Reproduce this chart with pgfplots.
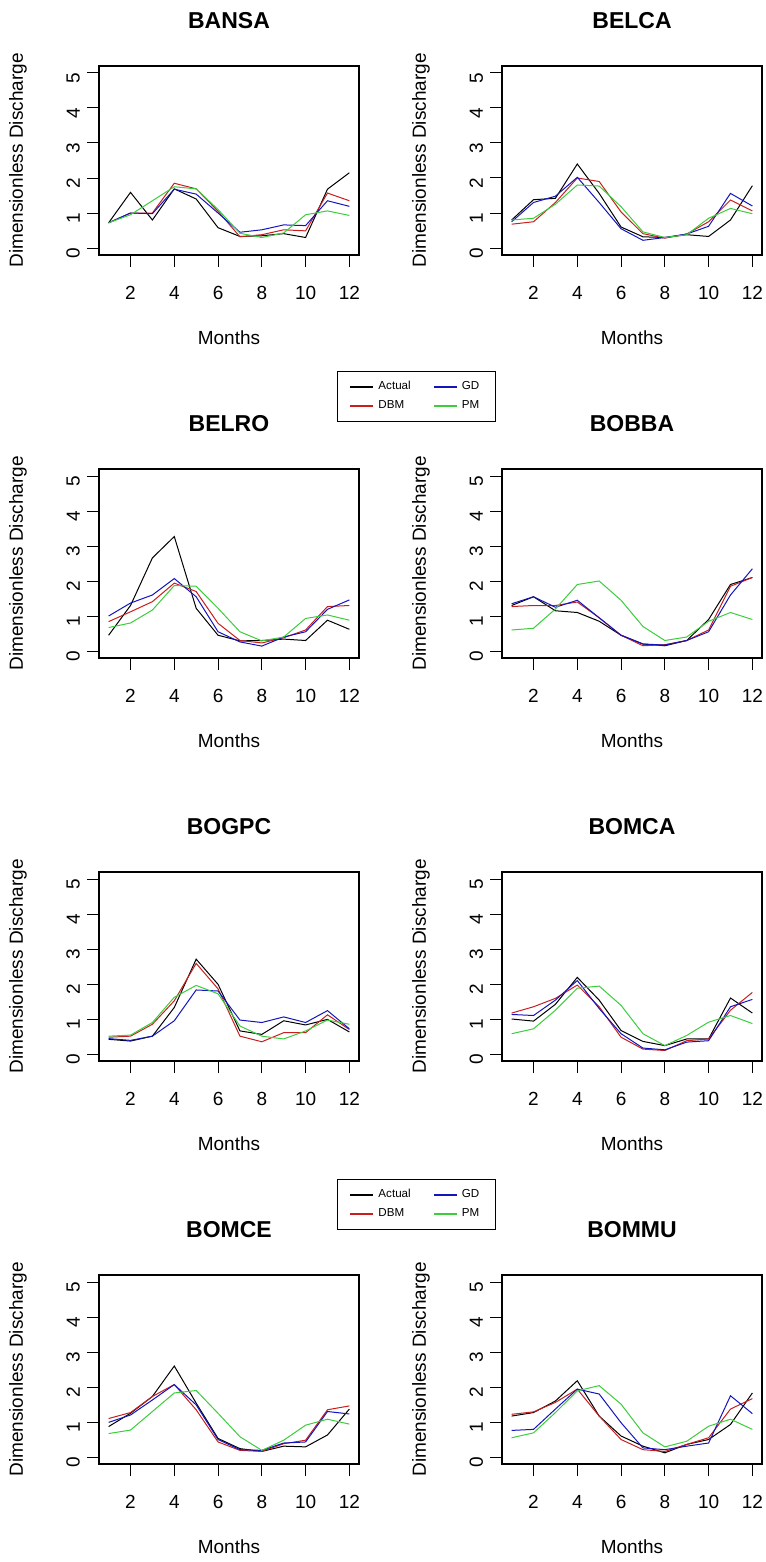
\documentclass[border=0pt]{standalone}
\usepackage{fontspec}
\setmainfont{Liberation Sans}
\usepackage{pgfplots}
\usepackage{pgfplotstable}
\pgfplotsset{compat=1.18}

\definecolor{cA}{RGB}{0,0,0}
\definecolor{cD}{RGB}{200,30,30}
\definecolor{cG}{RGB}{20,20,190}
\definecolor{cP}{RGB}{60,205,60}

% columns: month, Actual, DBM, GD, PM
\pgfplotstableread{
m A D G P
1 0.72 0.72 0.72 0.72
2 1.59 1.00 1.00 0.95
3 0.80 1.00 0.98 1.35
4 1.69 1.85 1.68 1.75
5 1.40 1.69 1.54 1.69
6 0.58 1.05 1.00 1.10
7 0.33 0.32 0.45 0.42
8 0.35 0.38 0.52 0.30
9 0.41 0.52 0.66 0.43
10 0.30 0.49 0.64 0.95
11 1.68 1.57 1.35 1.06
12 2.15 1.35 1.19 0.93
}\tBANSA
\pgfplotstableread{
m A D G P
1 0.80 0.68 0.75 0.80
2 1.38 0.75 1.30 0.85
3 1.42 1.30 1.48 1.25
4 2.40 2.00 2.02 1.80
5 1.56 1.90 1.30 1.77
6 0.60 1.03 0.55 1.18
7 0.32 0.41 0.22 0.46
8 0.30 0.28 0.30 0.30
9 0.38 0.40 0.40 0.38
10 0.33 0.75 0.62 0.85
11 0.80 1.37 1.56 1.13
12 1.78 1.06 1.20 0.98
}\tBELCA
\pgfplotstableread{
m A D G P
1 0.45 0.84 1.00 0.67
2 1.30 1.12 1.37 0.80
3 2.66 1.41 1.60 1.17
4 3.27 1.94 2.07 1.87
5 1.22 1.70 1.55 1.85
6 0.45 0.79 0.55 1.22
7 0.29 0.30 0.26 0.55
8 0.30 0.23 0.14 0.29
9 0.34 0.38 0.40 0.40
10 0.30 0.60 0.55 0.93
11 0.88 1.27 1.19 1.03
12 0.62 1.30 1.46 0.88
}\tBELRO
\pgfplotstableread{
m A D G P
1 1.30 1.27 1.35 0.60
2 1.55 1.30 1.55 0.65
3 1.15 1.30 1.25 1.20
4 1.10 1.40 1.45 1.90
5 0.85 0.95 0.95 2.00
6 0.45 0.45 0.45 1.45
7 0.20 0.15 0.20 0.70
8 0.15 0.18 0.17 0.30
9 0.30 0.30 0.30 0.40
10 0.90 0.60 0.55 0.85
11 1.90 1.85 1.60 1.10
12 2.10 2.10 2.35 0.90
}\tBOBBA
\pgfplotstableread{
m A D G P
1 0.42 0.48 0.44 0.51
2 0.37 0.51 0.39 0.54
3 0.51 0.85 0.51 0.90
4 1.33 1.52 0.95 1.62
5 2.71 2.59 1.83 1.96
6 1.99 1.86 1.80 1.72
7 0.66 0.51 0.97 0.80
8 0.56 0.35 0.90 0.51
9 0.95 0.61 1.06 0.43
10 0.83 0.61 0.90 0.66
11 0.99 1.12 1.24 0.97
12 0.63 0.70 0.72 0.85
}\tBOGPC
\pgfplotstableread{
m A D G P
1 1.00 1.17 1.13 0.58
2 0.94 1.35 1.10 0.72
3 1.42 1.59 1.54 1.25
4 2.19 1.97 2.10 1.88
5 1.54 1.35 1.30 1.94
6 0.67 0.48 0.58 1.39
7 0.36 0.14 0.17 0.58
8 0.24 0.10 0.12 0.24
9 0.43 0.38 0.34 0.53
10 0.43 0.43 0.38 0.91
11 1.60 1.25 1.35 1.10
12 1.17 1.76 1.56 0.87
}\tBOMCA
\pgfplotstableread{
m A D G P
1 0.87 1.10 0.99 0.67
2 1.25 1.27 1.20 0.77
3 1.73 1.73 1.63 1.30
4 2.60 2.07 2.07 1.83
5 1.54 1.35 1.49 1.90
6 0.53 0.43 0.50 1.25
7 0.24 0.19 0.21 0.58
8 0.16 0.16 0.19 0.19
9 0.31 0.38 0.40 0.48
10 0.29 0.48 0.43 0.91
11 0.63 1.35 1.30 1.08
12 1.37 1.46 1.23 0.94
}\tBOMCE
\pgfplotstableread{
m A D G P
1 1.17 1.22 0.76 0.55
2 1.27 1.29 0.79 0.69
3 1.60 1.56 1.37 1.27
4 2.18 1.94 1.94 1.89
5 1.17 1.17 1.80 2.04
6 0.60 0.50 0.98 1.51
7 0.31 0.21 0.26 0.69
8 0.12 0.16 0.21 0.29
9 0.36 0.36 0.31 0.45
10 0.50 0.55 0.40 0.88
11 0.93 1.37 1.75 1.08
12 1.83 1.67 1.24 0.79
}\tBOMMU

\pgfplotsset{
  rstyle/.style={
    scale only axis, width=130pt, height=94.5pt,
    xmin=0.56, xmax=12.44, ymin=-0.2, ymax=5.2,
    xtick={2,4,...,12}, ytick={0,1,...,5},
    tick align=outside, xtick pos=bottom, ytick pos=left,
    major tick length=6pt,
    tick style={black, line width=0.5pt},
    axis line style={line width=0.6pt},
    /pgf/number format/assume math mode=true,
    every tick label/.append style={font=\fontsize{9.5}{11}\selectfont},
    yticklabel style={rotate=90, anchor=south, xshift=-2.5pt},
    xticklabel style={yshift=-6pt},
    xlabel={Months}, ylabel={Dimensionless Discharge},
    every axis x label/.style={at={(axis description cs:0.5,0)}, anchor=center, yshift=-41.5pt, font=\fontsize{9.5}{11}\selectfont},
    every axis y label/.style={at={(axis description cs:0,0.5)}, xshift=-40.5pt, rotate=90, anchor=center, font=\fontsize{9.5}{11}\selectfont},
    every axis title shift=0pt,
    title style={at={(axis description cs:0.5,1)}, anchor=center, yshift=22.5pt, font=\bfseries\fontsize{11.5}{13}\selectfont},
    every axis plot/.append style={line width=0.5pt},
    legend image code/.code={\draw[#1, line width=1.1pt] (0pt,0pt) -- (11.5pt,0pt);},
  },
  rlegend/.style={
    legend columns=2, transpose legend, legend cell align=left,
    legend style={anchor=north west, font=\fontsize{5.8}{6.5}\selectfont,
      draw=black, line width=0.4pt, inner xsep=6pt, inner ysep=3pt,
      /tikz/every even column/.append style={column sep=9pt}},
  },
}

\newcommand{\fourlines}[1]{%
  \addplot[cA] table[x=m,y=A] {#1};
  \addplot[cD] table[x=m,y=D] {#1};
  \addplot[cG] table[x=m,y=G] {#1};
  \addplot[cP] table[x=m,y=P] {#1};
}

\begin{document}
\begin{tikzpicture}
\path[use as bounding box] (0,0) rectangle (382.5pt,-781pt);

\begin{axis}[rstyle, at={(49.5pt,-127.5pt)}, anchor=south west, title={BANSA},
  rlegend, legend style={at={(0.915,-0.614)}}]
\fourlines{\tBANSA}
\legend{Actual,DBM,GD,PM}
\end{axis}
\begin{axis}[rstyle, at={(251pt,-127.5pt)}, anchor=south west, title={BELCA}]
\fourlines{\tBELCA}
\end{axis}

\begin{axis}[rstyle, at={(49.5pt,-329pt)}, anchor=south west, title={BELRO}]
\fourlines{\tBELRO}
\end{axis}
\begin{axis}[rstyle, at={(251pt,-329pt)}, anchor=south west, title={BOBBA}]
\fourlines{\tBOBBA}
\end{axis}

\begin{axis}[rstyle, at={(49.5pt,-530.5pt)}, anchor=south west, title={BOGPC},
  rlegend, legend style={at={(0.915,-0.622)}}]
\fourlines{\tBOGPC}
\legend{Actual,DBM,GD,PM}
\end{axis}
\begin{axis}[rstyle, at={(251pt,-530.5pt)}, anchor=south west, title={BOMCA}]
\fourlines{\tBOMCA}
\end{axis}

\begin{axis}[rstyle, at={(49.5pt,-732pt)}, anchor=south west, title={BOMCE}]
\fourlines{\tBOMCE}
\end{axis}
\begin{axis}[rstyle, at={(251pt,-732pt)}, anchor=south west, title={BOMMU}]
\fourlines{\tBOMMU}
\end{axis}
\end{tikzpicture}
\end{document}
